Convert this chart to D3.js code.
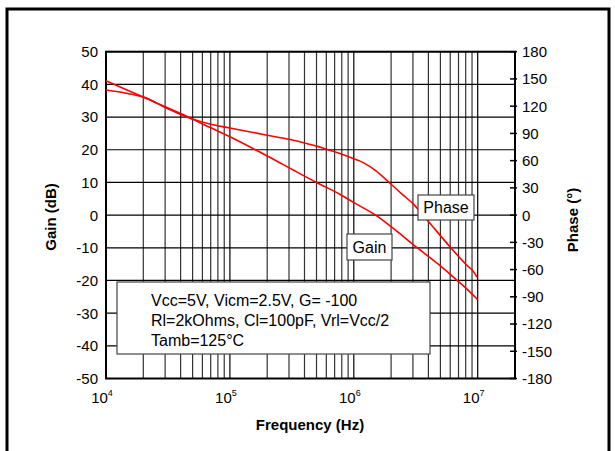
<!DOCTYPE html>
<head>
  <meta charset="utf-8">
  <script src="https://d3js.org/d3.v7.min.js"></script>
  <style>
    body { margin: 0; background: #fff; }
    text { font-family: "Liberation Sans", Arial, sans-serif; fill: #000; }
    .tick-label { font-size: 15px; }
    .axis-title { font-size: 15px; font-weight: bold; }
    .note { font-size: 16px; }
  </style>
</head>

<body>
  <script>

  // gain curve (Hz, dB)
  var gainFreq = [1e4, 2e4, 3e4, 4e4, 5e4, 7e4, 1e5, 2e5, 3.24e5, 5e5, 7.7e5, 1e6, 1.5e6, 2.07e6, 3.4e6, 4.94e6, 6.73e6, 8.6e6, 1e7];
  var gainDb   = [38.3, 36.1, 32.9, 30.8, 29.3, 26.7, 24.0, 18.1, 13.8, 10.0, 6.4, 3.8, 0, -4.0, -10.6, -15.4, -19.8, -23.4, -25.9];

  // phase curve (Hz, degrees)
  var phaseFreq = [1e4, 2e4, 3e4, 4e4, 5e4, 7e4, 1e5, 2e5, 3e5, 4e5, 5e5, 6e5, 8e5, 1e6, 1.2e6, 1.5e6, 2e6, 2.5e6, 3e6, 4e6, 5.94e6, 8.1e6, 9.1e6, 9.86e6];
  var phaseDeg  = [148, 130, 119.5, 112, 106, 100, 96, 88, 83.5, 79.5, 76, 72.5, 67, 62, 57.5, 49, 34, 22, 12.6, -7, -34.6, -54.7, -61, -68.4];

  var gainTicks = [-50, -40, -30, -20, -10, 0, 10, 20, 30, 40, 50];
  var phaseTicks = [-180, -150, -120, -90, -60, -30, 0, 30, 60, 90, 120, 150, 180];
  var decades = [1e4, 1e5, 1e6, 1e7];
  var noteLines = ["Vcc=5V, Vicm=2.5V, G= -100", "Rl=2kOhms, Cl=100pF, Vrl=Vcc/2", "Tamb=125°C"];

  var width = 615, height = 451;
  var plot = {left: 106, right: 515, top: 51.7, bottom: 378.5};

  var svg = d3.select("body").append("svg")
      .attr("width", width)
      .attr("height", height);

  // outer frame (open at the bottom, as in the scan)
  svg.append("path")
      .attr("d", "M7," + height + "V9H609V" + height)
      .attr("fill", "none")
      .attr("stroke", "#000")
      .attr("stroke-width", 3);

  var x = d3.scaleLog()
      .domain([1e4, 2e7])
      .range([plot.left, plot.right]);

  var yGain = d3.scaleLinear()
      .domain([-50, 50])
      .range([plot.bottom, plot.top]);

  var yPhase = d3.scaleLinear()
      .domain([-180, 180])
      .range([plot.bottom, plot.top]);

  // vertical grid: 1..9 in every decade up to 1e7
  var gridFreq = [];
  decades.forEach(function(d) {
    if (d === 1e7) { gridFreq.push(d); return; }
    for (var k = 1; k < 10; k++) gridFreq.push(d * k);
  });

  var grid = svg.append("g");

  grid.selectAll(".vgrid")
    .data(gridFreq)
    .enter().append("line")
      .attr("class", "vgrid")
      .attr("x1", function(d) { return x(d); })
      .attr("x2", function(d) { return x(d); })
      .attr("y1", plot.top)
      .attr("y2", plot.bottom)
      .attr("stroke", function(d) { return decades.indexOf(d) >= 0 ? "#000" : "#333"; })
      .attr("stroke-width", 1.2);

  grid.selectAll(".hgrid")
    .data(gainTicks)
    .enter().append("line")
      .attr("class", "hgrid")
      .attr("x1", plot.left)
      .attr("x2", plot.right)
      .attr("y1", function(d) { return yGain(d); })
      .attr("y2", function(d) { return yGain(d); })
      .attr("stroke", "#000")
      .attr("stroke-width", 1.2);

  // plot border
  svg.append("rect")
      .attr("x", plot.left)
      .attr("y", plot.top)
      .attr("width", plot.right - plot.left)
      .attr("height", plot.bottom - plot.top)
      .attr("fill", "none")
      .attr("stroke", "#000")
      .attr("stroke-width", 2);

  // right axis ticks for phase
  svg.append("g").selectAll("line")
    .data(phaseTicks)
    .enter().append("line")
      .attr("x1", plot.right - 5)
      .attr("x2", plot.right + 2)
      .attr("y1", function(d) { return yPhase(d); })
      .attr("y2", function(d) { return yPhase(d); })
      .attr("stroke", "#000")
      .attr("stroke-width", 1.5);

  // curves
  var lineGain = d3.line()
      .x(function(d, i) { return x(gainFreq[i]); })
      .y(function(d) { return yGain(d); })
      .curve(d3.curveCatmullRom.alpha(0.5));

  var linePhase = d3.line()
      .x(function(d, i) { return x(phaseFreq[i]); })
      .y(function(d) { return yPhase(d); })
      .curve(d3.curveCatmullRom.alpha(0.5));

  svg.append("path")
      .datum(gainDb)
      .attr("fill", "none")
      .attr("stroke", "#ff0000")
      .attr("stroke-width", 1.6)
      .attr("d", lineGain);

  svg.append("path")
      .datum(phaseDeg)
      .attr("fill", "none")
      .attr("stroke", "#ff0000")
      .attr("stroke-width", 1.6)
      .attr("d", linePhase);

  // left tick labels
  svg.append("g").selectAll("text")
    .data(gainTicks)
    .enter().append("text")
      .attr("class", "tick-label")
      .attr("x", plot.left - 8)
      .attr("y", function(d) { return yGain(d); })
      .attr("dy", "0.36em")
      .attr("text-anchor", "end")
      .text(function(d) { return d; });

  // right tick labels
  svg.append("g").selectAll("text")
    .data(phaseTicks)
    .enter().append("text")
      .attr("class", "tick-label")
      .attr("x", plot.right + 7)
      .attr("y", function(d) { return yPhase(d); })
      .attr("dy", "0.36em")
      .text(function(d) { return d; });

  // decade labels 10^n
  var xLab = svg.append("g").selectAll("text")
    .data(decades)
    .enter().append("text")
      .attr("class", "tick-label")
      .attr("x", function(d) { return x(d) - 4; })
      .attr("y", plot.bottom + 24)
      .attr("text-anchor", "middle");
  xLab.append("tspan").text("10");
  xLab.append("tspan")
      .attr("dy", -7)
      .style("font-size", "9px")
      .text(function(d) { return Math.round(Math.log10(d)); });

  // axis titles
  svg.append("text")
      .attr("class", "axis-title")
      .attr("text-anchor", "middle")
      .attr("transform", "translate(56,217)rotate(-90)")
      .text("Gain (dB)");

  svg.append("text")
      .attr("class", "axis-title")
      .attr("text-anchor", "middle")
      .attr("transform", "translate(578,220)rotate(-90)")
      .text("Phase (°)");

  svg.append("text")
      .attr("class", "axis-title")
      .attr("text-anchor", "middle")
      .attr("x", 310)
      .attr("y", 430)
      .text("Frequency (Hz)");

  // curve labels in boxes
  function boxLabel(bx, by, bw, bh, label) {
    svg.append("rect")
        .attr("x", bx).attr("y", by)
        .attr("width", bw).attr("height", bh)
        .attr("fill", "#fff")
        .attr("stroke", "#444")
        .attr("stroke-width", 1.2);
    svg.append("text")
        .attr("class", "note")
        .attr("x", bx + bw / 2)
        .attr("y", by + bh / 2)
        .attr("dy", "0.36em")
        .attr("text-anchor", "middle")
        .text(label);
  }
  boxLabel(418, 195, 56, 25, "Phase");
  boxLabel(347, 234, 45, 26, "Gain");

  // conditions box
  svg.append("rect")
      .attr("x", 117).attr("y", 282)
      .attr("width", 313).attr("height", 72)
      .attr("fill", "#fff")
      .attr("stroke", "#444")
      .attr("stroke-width", 1.2);

  svg.append("g").selectAll("text")
    .data(noteLines)
    .enter().append("text")
      .attr("class", "note")
      .attr("x", 151)
      .attr("y", function(d, i) { return 306 + i * 20; })
      .text(function(d) { return d; });

  </script>
</body>
